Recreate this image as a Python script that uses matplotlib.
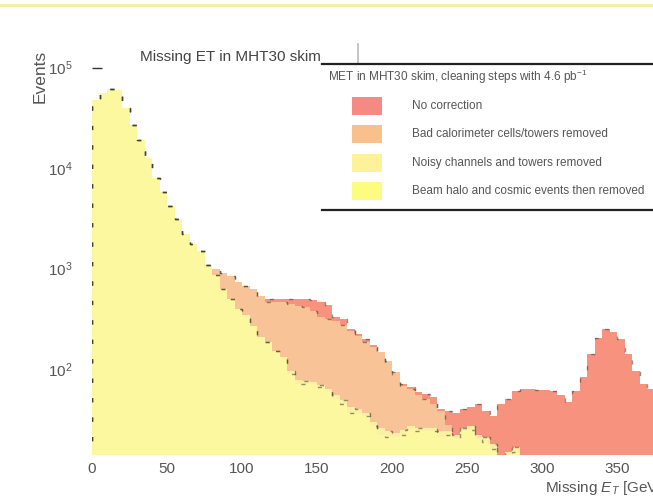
import numpy as np
import matplotlib
matplotlib.use("Agg")
import matplotlib.pyplot as plt
from matplotlib.patches import Rectangle
from matplotlib.lines import Line2D

plt.rcParams["font.family"] = ["Liberation Sans", "DejaVu Sans"]
plt.rcParams["mathtext.fontset"] = "custom"
plt.rcParams["mathtext.rm"] = "Liberation Sans"
plt.rcParams["mathtext.it"] = "Liberation Sans:italic"

# 5 GeV bins of missing transverse energy
bin_edges = np.arange(0, 405, 5)

# Events per bin after each cleaning step
no_correction = [
    48000, 56000, 61700, 60000, 40000, 27000, 19000, 12700, 8000, 5850,
    4160, 3100, 2200, 1750, 1490, 1100, 985, 900, 840, 731,
    670, 623, 540, 495, 495, 495, 495, 505, 505, 485,
    462, 440, 328, 313, 250, 222, 198, 176, 141, 112,
    85, 71, 66, 59, 56, 53, 40, 38, 37, 40,
    42, 45, 38, 34, 45, 50, 60, 63, 63, 62,
    62, 60, 55, 47, 60, 83, 141, 206, 250, 233,
    198, 141, 95, 71, 63, 70, 66, 58, 52, 47,
]
bad_cells_removed = [
    48000, 56000, 61700, 60000, 40000, 27000, 19000, 12700, 8000, 5850,
    4160, 3100, 2200, 1750, 1490, 1100, 985, 900, 840, 731,
    670, 623, 530, 462, 462, 462, 450, 430, 413, 376,
    328, 313, 300, 273, 238, 213, 185, 165, 147, 120,
    93, 68, 63, 55, 50, 45, 38, 28, 22, 26,
    27, 22, 21, 18, 13, 15, 17, 12, 10, 8,
    7, 9, 6, 7, 5, 6, 8, 10, 9, 7,
    6, 5, 6, 4, 5, 4, 5, 4, 3, 4,
]
noisy_channels_removed = [
    48000, 56000, 61700, 60000, 40000, 27000, 19000, 12700, 8000, 5850,
    4160, 3100, 2200, 1750, 1490, 1080, 860, 623, 495, 395,
    350, 267, 208, 185, 151, 131, 95, 78, 76, 75,
    70, 64, 55, 49, 42, 40, 37, 30, 26, 24,
    23, 25, 27, 26, 26, 26, 24, 24, 22, 26,
    27, 22, 21, 18, 13, 15, 17, 12, 10, 8,
    7, 9, 6, 7, 5, 6, 8, 10, 9, 7,
    6, 5, 6, 4, 5, 4, 5, 4, 3, 4,
]
baseline_cleaned = [
    48000, 56000, 61700, 60000, 40000, 27000, 19000, 12700, 8000, 5850,
    4160, 3100, 2200, 1750, 1490, 1080, 860, 623, 495, 395,
    350, 267, 208, 185, 151, 131, 89, 71, 71, 72,
    66, 60, 50, 45, 37, 36, 34, 27, 22, 21,
    21, 22, 25, 24, 24, 24, 21, 22, 20, 24,
    25, 20, 19, 16, 10, 14, 15, 10, 9, 7,
    6, 8, 5, 6, 4, 5, 7, 9, 8, 6,
    5, 4, 5, 3, 4, 3, 4, 3, 2, 3,
]

x_ticks = [0, 50, 100, 150, 200, 250, 300, 350]

series = [no_correction, bad_cells_removed, noisy_channels_removed, baseline_cleaned]
labels = [
    "No correction",
    "Bad calorimeter cells/towers removed",
    "Noisy channels and towers removed",
    "Beam halo and cosmic events then removed",
]
legend_title = "MET in MHT30 skim, cleaning steps with 4.6 pb$^{-1}$"
colors = ["#f7927f", "#f8c497", "#fcf0a4", "#fcf8a0"]
legend_colors = ["#f58a84", "#f7c08c", "#fdf29a", "#fdfb80"]

W, H = 653, 498
fig = plt.figure(figsize=(W / 100, H / 100), dpi=100)


def fx(px):
    return px / W


def fy(py):
    return 1 - py / H


# axes run past the right edge of the canvas
ax = fig.add_axes([fx(92), fy(455), 600 / W, (455 - 50) / H])
ax.set_yscale("log")
ax.set_xlim(0, 400)
ax.set_ylim(14, 1.5e5)
ax.set_axisbelow(True)

for vals, col in zip(series, colors):
    ax.stairs(vals, bin_edges, fill=True, color=col, baseline=1, zorder=1)
for vals in series:
    ax.stairs(vals, bin_edges, fill=False, color="#3a3a2a", lw=1.0,
              linestyle=(0, (3, 11)), alpha=0.55, zorder=2)

for s in ax.spines.values():
    s.set_visible(False)
ax.set_xticks(x_ticks)
ax.tick_params(axis="x", length=0, pad=5, labelsize=11, labelcolor="#555555")
ax.tick_params(axis="y", which="major", direction="in", length=7, width=1,
               color="#333333", pad=14, labelsize=11, labelcolor="#555555")
ax.tick_params(axis="y", which="minor", length=0)

fig.text(fx(40), fy(50), "Events", rotation=90, ha="center", va="top",
         fontsize=12.5, color="#555555")
fig.text(fx(545), fy(488), "Missing $E_T$ [GeV]", ha="left", va="center",
         fontsize=11, color="#555555")

# canvas title pad
fig.add_artist(Line2D([0, 1], [fy(5), fy(5)], transform=fig.transFigure,
                      color="#f5ee9c", lw=2))
fig.text(fx(140), fy(57), "Missing ET in MHT30 skim", ha="left", va="center",
         fontsize=11, color="#444444")
fig.add_artist(Line2D([fx(358), fx(358)], [fy(44), fy(66)],
                      transform=fig.transFigure, color="#bbbbbb", lw=1.2))

# legend box
fig.add_artist(Rectangle((fx(322), fy(210)), fx(653) - fx(322) + 0.05,
                         fy(64) - fy(210), transform=fig.transFigure,
                         facecolor="white", edgecolor="none", zorder=3))
for yy in (64, 210):
    fig.add_artist(Line2D([fx(322), 1.0], [fy(yy), fy(yy)],
                          transform=fig.transFigure, color="#222222", lw=1.6,
                          zorder=4))
fig.text(fx(328), fy(77), legend_title, ha="left",
         va="center", fontsize=8.5, color="#555555", zorder=5)
swatch_y = [106, 134, 163, 191]
for yy, col, lab in zip(swatch_y, legend_colors, labels):
    fig.add_artist(Rectangle((fx(352), fy(yy + 9)), 30 / W, 18 / H,
                             transform=fig.transFigure, facecolor=col,
                             edgecolor="none", zorder=5))
    fig.text(fx(412), fy(yy), lab, ha="left", va="center", fontsize=8.5,
             color="#555555", zorder=5)

fig.savefig("out.png", dpi=100)
